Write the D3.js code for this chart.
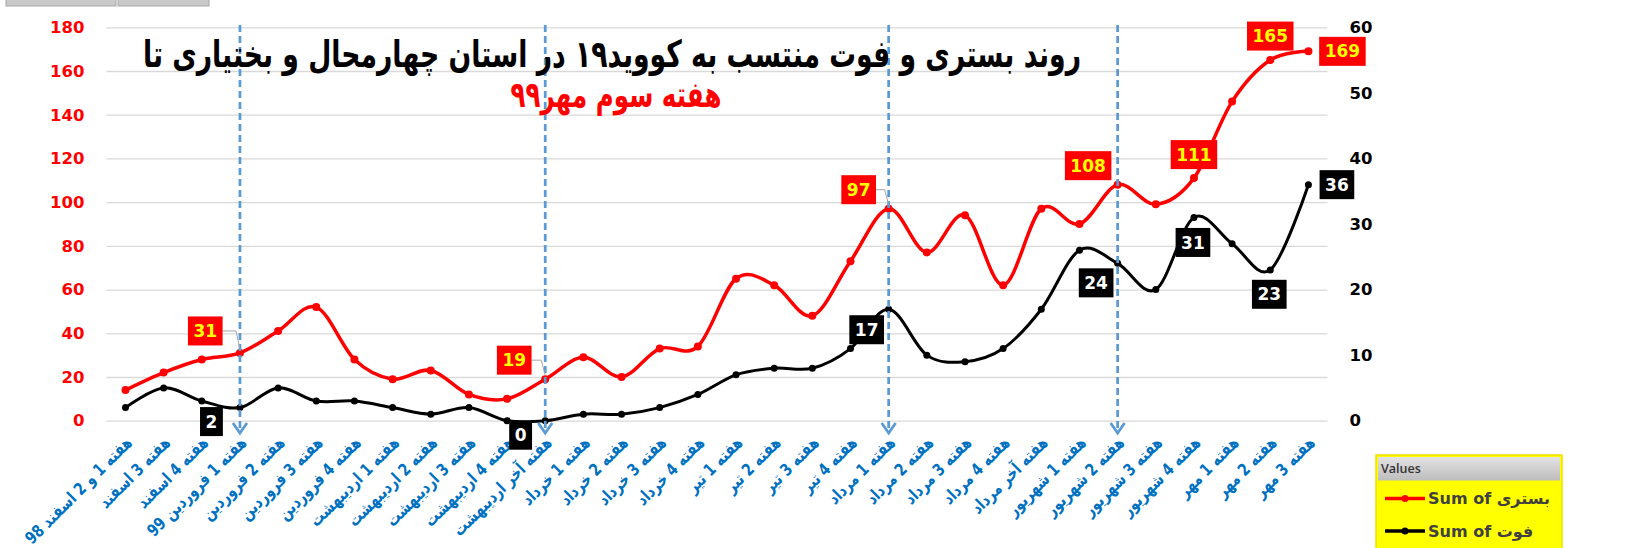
<!DOCTYPE html>
<html>
<head>
<meta charset="utf-8">
<script src="https://cdn.jsdelivr.net/npm/d3@7"></script>
<style>
  html, body { margin: 0; padding: 0; background: #fff; }
  svg { display: block; }
</style>
</head>
<body>
<svg id="chart" width="1639" height="548"></svg>
<script>
// ---------------- data ----------------
const categories = [
  "هفته 1 و 2 اسفند 98", "هفته 3 اسفند", "هفته 4 اسفند", "هفته 1 فروردین 99",
  "هفته 2 فروردین", "هفته 3 فروردین", "هفته 4 فروردین", "هفته 1 اردیبهشت",
  "هفته 2 اردیبهشت", "هفته 3 اردیبهشت", "هفته 4 اردیبهشت", "هفته آخر اردیبهشت",
  "هفته 1 خرداد", "هفته 2 خرداد", "هفته 3 خرداد", "هفته 4 خرداد",
  "هفته 1 تیر", "هفته 2 تیر", "هفته 3 تیر", "هفته 4 تیر",
  "هفته 1 مرداد", "هفته 2 مرداد", "هفته 3 مرداد", "هفته 4 مرداد",
  "هفته آخر مرداد", "هفته 1 شهریور", "هفته 2 شهریور", "هفته 3 شهریور",
  "هفته 4 شهریور", "هفته 1 مهر", "هفته 2 مهر", "هفته 3 مهر"
];
const hospitalized = [14, 22, 28, 31, 41, 52, 28, 19, 23, 12, 10, 19,
                      29, 20, 33, 34, 65, 62, 48, 73, 97, 77, 94, 62,
                      97, 90, 108, 99, 111, 146, 165, 169];
const deaths = [2, 5, 3, 2, 5, 3, 3, 2, 1, 2, 0, 0,
                1, 1, 2, 4, 7, 8, 8, 11, 17, 10, 9, 11,
                17, 26, 24, 20, 31, 27, 23, 36];
const leftTicks = [0, 20, 40, 60, 80, 100, 120, 140, 160, 180];
const rightTicks = [0, 10, 20, 30, 40, 50, 60];
const markerWeeks = ["هفته 1 فروردین 99", "هفته آخر اردیبهشت", "هفته 1 مرداد", "هفته 2 شهریور"];
const labelledHosp = ["هفته 1 فروردین 99", "هفته آخر اردیبهشت", "هفته 1 مرداد", "هفته 2 شهریور", "هفته 4 شهریور", "هفته 2 مهر", "هفته 3 مهر"];
const labelledDeaths = ["هفته 1 فروردین 99", "هفته آخر اردیبهشت", "هفته 1 مرداد", "هفته 2 شهریور", "هفته 4 شهریور", "هفته 2 مهر", "هفته 3 مهر"];
const titleText = "روند بستری و فوت منتسب به  کووید۱۹ در استان چهارمحال و بختیاری تا";
const subtitleText = "هفته سوم مهر۹۹";
const seriesNames = ["Sum of بستری", "Sum of فوت"];

// ---------------- layout / style ----------------
const plot = { left: 106.4, right: 1327.5, top: 27.3, bottom: 420.7 };
// label placement offsets (relative to the point), one per labelled point
const hospLabelPos = [
  { dx: -34.7, dy: -22, leader: true }, { dx: -31, dy: -19, leader: true },
  { dx: -30, dy: -19, leader: true }, { dx: -29.5, dy: -19 },
  { dx: 0, dy: -23.5 }, { dx: 0, dy: -24 }, { dx: 34, dy: 0 }
];
const deathLabelPos = [
  { dx: -28.5, dy: 14 }, { dx: -24.6, dy: 14.5 }, { dx: -22, dy: 20.5 },
  { dx: -21.5, dy: 19.5 }, { dx: -1, dy: 25 }, { dx: -1, dy: 24.4 }, { dx: 28.5, dy: 0 }
];

const svg = d3.select("#chart");
const x = d3.scalePoint().domain(categories).range([plot.left, plot.right]).padding(0.5);
const yL = d3.scaleLinear().domain([0, 180]).range([plot.bottom, plot.top]);
const yR = d3.scaleLinear().domain([0, 60]).range([plot.bottom, plot.top]);

// pivot field buttons (cut off at top)
svg.append("rect").attr("x", 6).attr("y", -6).attr("width", 110).attr("height", 12)
  .attr("fill", "#C9C9C9").attr("stroke", "#A6A6A6");
svg.append("rect").attr("x", 118).attr("y", -6).attr("width", 91).attr("height", 12)
  .attr("fill", "#C9C9C9").attr("stroke", "#A6A6A6");

// gridlines + left axis
const gl = svg.append("g").attr("transform", `translate(${plot.left},0)`)
  .call(d3.axisLeft(yL).tickValues(leftTicks).tickSizeInner(-(plot.right - plot.left)).tickSizeOuter(0).tickPadding(22));
gl.select(".domain").remove();
gl.selectAll(".tick line").attr("stroke", "#D9D9D9").attr("stroke-width", 1.3);
gl.selectAll(".tick text").attr("fill", "#FF0000").attr("font-family", "DejaVu Sans")
  .attr("font-weight", "bold").attr("font-size", 16.5);

// right axis
const gr = svg.append("g").attr("transform", `translate(${plot.right},0)`)
  .call(d3.axisRight(yR).tickValues(rightTicks).tickSize(0).tickPadding(22));
gr.select(".domain").remove();
gr.selectAll(".tick text").attr("fill", "#000").attr("font-family", "DejaVu Sans")
  .attr("font-weight", "bold").attr("font-size", 16.5);

// x axis
const gx = svg.append("g").attr("transform", `translate(0,${plot.bottom})`)
  .call(d3.axisBottom(x).tickSize(0).tickPadding(0));
gx.select(".domain").remove();
gx.selectAll(".tick text")
  .attr("fill", "#0070C0").attr("font-family", "DejaVu Sans").attr("font-weight", "bold")
  .attr("font-size", 13.5).attr("text-anchor", "end")
  .attr("y", 0).attr("dy", "0.35em")
  .attr("transform", "translate(3,19) rotate(-45) scale(1,1.25)");

// lines
const curve = d3.curveCatmullRom.alpha(0);
const lineH = d3.line().x((d, i) => x(categories[i])).y(d => yL(d)).curve(curve);
const lineD = d3.line().x((d, i) => x(categories[i])).y(d => yR(d)).curve(curve);

svg.append("path").datum(deaths).attr("d", lineD).attr("fill", "none")
  .attr("stroke", "#000").attr("stroke-width", 3);
svg.append("g").selectAll("circle").data(deaths).join("circle")
  .attr("cx", (d, i) => x(categories[i])).attr("cy", d => yR(d)).attr("r", 3.5).attr("fill", "#000");

svg.append("path").datum(hospitalized).attr("d", lineH).attr("fill", "none")
  .attr("stroke", "#FF0000").attr("stroke-width", 3.5);
svg.append("g").selectAll("circle").data(hospitalized).join("circle")
  .attr("cx", (d, i) => x(categories[i])).attr("cy", d => yL(d)).attr("r", 4).attr("fill", "#FF0000");

// dashed arrows
const arrows = svg.append("g");
markerWeeks.forEach(w => {
  const xx = x(w);
  arrows.append("line").attr("x1", xx).attr("x2", xx).attr("y1", 25).attr("y2", 432)
    .attr("stroke", "#5B9BD5").attr("stroke-width", 2.75).attr("stroke-dasharray", "7,4");
  arrows.append("path").attr("d", `M${xx - 7},${423} L${xx},${433} L${xx + 7},${423}`)
    .attr("fill", "none").attr("stroke", "#5B9BD5").attr("stroke-width", 2.75);
});

// data labels
function addLabel(g, cx, cy, text, fill, color) {
  const t = g.append("text").attr("x", cx).attr("y", cy).attr("dy", "0.36em")
    .attr("text-anchor", "middle").attr("font-family", "DejaVu Sans").attr("font-weight", "bold")
    .attr("font-size", 17).attr("fill", color).text(text);
  const w = t.node().getComputedTextLength() + 11;
  g.insert("rect", "text").attr("x", cx - w / 2).attr("y", cy - 14.5).attr("width", w).attr("height", 29)
    .attr("fill", fill);
  return w;
}
const lab = svg.append("g");
labelledHosp.forEach((w, k) => {
  const i = categories.indexOf(w);
  const px = x(w), py = yL(hospitalized[i]);
  const p = hospLabelPos[k];
  const g = lab.append("g");
  const bw = addLabel(g, px + p.dx, py + p.dy, hospitalized[i], "#FF0000", "#FFFF00");
  if (p.leader) {
    lab.insert("path", "g").attr("d", `M${px + p.dx + bw / 2},${py + p.dy} H${px - 4} L${px},${py - 4}`)
      .attr("fill", "none").attr("stroke", "#A6A6A6").attr("stroke-width", 1);
  }
});
labelledDeaths.forEach((w, k) => {
  const i = categories.indexOf(w);
  const px = x(w), py = yR(deaths[i]);
  const p = deathLabelPos[k];
  addLabel(lab.append("g"), px + p.dx, py + p.dy, deaths[i], "#000000", "#FFFFFF");
});

// titles (fit to the reference width, stretched vertically like the original Persian face)
function fitText(sel, width) {
  const w = sel.node().getComputedTextLength();
  sel.attr("font-size", 28 * width / w);
}
const title = svg.append("text").attr("x", 0).attr("y", 0).attr("dy", "0.35em")
  .attr("text-anchor", "middle").attr("font-family", "DejaVu Sans").attr("font-weight", "bold")
  .attr("font-size", 28).attr("fill", "#000").text(titleText)
  .attr("transform", "translate(612,54) scale(1,1.4)");
fitText(title, 938);
const sub = svg.append("text").attr("x", 0).attr("y", 0).attr("dy", "0.35em")
  .attr("text-anchor", "middle").attr("font-family", "DejaVu Sans").attr("font-weight", "bold")
  .attr("font-size", 28).attr("fill", "#FF0000").text(subtitleText)
  .attr("transform", "translate(616,95) scale(1,1.45)");
fitText(sub, 211);

// legend
const lg = svg.append("g");
const grad = svg.append("defs").append("linearGradient").attr("id", "hdr").attr("x1", 0).attr("x2", 0).attr("y1", 0).attr("y2", 1);
grad.append("stop").attr("offset", "0%").attr("stop-color", "#E3E3E3");
grad.append("stop").attr("offset", "100%").attr("stop-color", "#BDBDBD");
lg.append("rect").attr("x", 1376).attr("y", 455).attr("width", 186).attr("height", 100)
  .attr("fill", "#FFFF00").attr("stroke", "#F0E000").attr("stroke-width", 1.5);
lg.append("rect").attr("x", 1378).attr("y", 457).attr("width", 182).attr("height", 23.5).attr("fill", "url(#hdr)");
lg.append("text").attr("x", 1381).attr("y", 473).attr("font-family", "Open Sans").attr("font-weight", 600)
  .attr("font-size", 12.5).attr("fill", "#333").text("Values");
const legColors = ["#FF0000", "#000000"];
seriesNames.forEach((n, k) => {
  const yy = 498.5 + k * 32.5;
  lg.append("line").attr("x1", 1385).attr("x2", 1425).attr("y1", yy).attr("y2", yy)
    .attr("stroke", legColors[k]).attr("stroke-width", 3.5);
  lg.append("circle").attr("cx", 1405).attr("cy", yy).attr("r", 3.5).attr("fill", legColors[k]);
  lg.append("text").attr("x", 1428).attr("y", yy).attr("dy", "0.36em")
    .attr("font-family", "DejaVu Sans").attr("font-weight", "bold").attr("font-size", 16)
    .attr("fill", "#404040").text(n);
});
</script>
</body>
</html>
